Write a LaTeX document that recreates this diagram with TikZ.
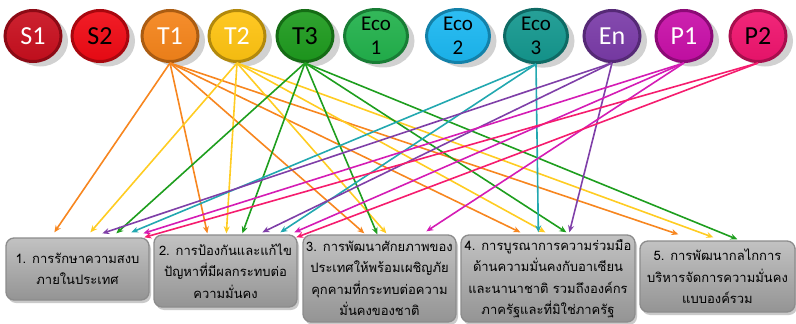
\documentclass[tikz,border=0pt]{standalone}
\usepackage{fontspec}
\setmainfont{Carlito}
\newfontfamily\thaifont[Script=Thai]{Loma}
\usetikzlibrary{shapes.geometric,arrows.meta,shadows,calc}
\definecolor{cS1}{HTML}{C80F1E}
\definecolor{cS2}{HTML}{F00A14}
\definecolor{cT1}{HTML}{F5841A}
\definecolor{cT2}{HTML}{FFC411}
\definecolor{cT3}{HTML}{1E9B1E}
\definecolor{cE1}{HTML}{22B24C}
\definecolor{cE2}{HTML}{1BB8F2}
\definecolor{cE3}{HTML}{14988F}
\definecolor{cEn}{HTML}{7A3BA8}
\definecolor{cP1}{HTML}{C80FA8}
\definecolor{cP2}{HTML}{F0146E}
\definecolor{aO}{HTML}{F7861F}
\definecolor{aY}{HTML}{FFCC22}
\definecolor{aG}{HTML}{1E9E1E}
\definecolor{aT}{HTML}{22A8B0}
\definecolor{aP}{HTML}{7F3FA8}
\definecolor{aM}{HTML}{D41CB4}
\definecolor{aK}{HTML}{F51C6E}
\begin{document}
\begin{tikzpicture}[x=1pt,y=-1pt,
  bubble/.style={ellipse, minimum width=56pt, minimum height=51pt, line width=3pt, inner sep=0pt,
    font=\fontsize{26}{26}\selectfont,
    drop shadow={shadow xshift=7pt, shadow yshift=-5pt, opacity=0.3, fill=black!60}},
  bub/.style 2 args={bubble, top color=#1!92!white, bottom color=#1!95!black, draw=#1!70!black, text=#2},
  ecob/.style={minimum width=63pt, align=center, font=\fontsize{21}{24}\selectfont},
  tbox/.style={draw=black!45, line width=1.3pt, rounded corners=8pt, top color=black!24, bottom color=black!42,
    drop shadow={shadow xshift=2pt, shadow yshift=-3pt, opacity=0.35, fill=black!60},
    font=\thaifont\fontsize{13}{21.5}\selectfont, align=center, text=black, inner sep=0pt},
  arr/.style={line width=1.6pt, -{Stealth[length=7pt,width=6pt]}}
]
\useasboundingbox (0,0) rectangle (796,324);
% top circles
\node[bub={cS1}{white}] (S1) at (33,36) {S1};
\node[bub={cS2}{black}] (S2) at (100,36) {S2};
\node[bub={cT1}{white}] (T1) at (170,36) {T1};
\node[bub={cT2}{white}] (T2) at (237,36) {T2};
\node[bub={cT3}{black}] (T3) at (305,36) {T3};
\node[bub={cE1}{black}, ecob] (E1) at (376,36) {Eco\\1};
\node[bub={cE2}{black}, ecob] (E2) at (458,36) {Eco\\2};
\node[bub={cE3}{black}, ecob] (E3) at (536,36) {Eco\\3};
\node[bub={cEn}{white}] (En) at (612,36) {En};
\node[bub={cP1}{white}] (P1) at (684,36) {P1};
\node[bub={cP2}{black}] (P2) at (758,36) {P2};
% boxes
\node[tbox, minimum width=143pt, minimum height=62pt] (b1) at (77.5,269) {1. การรักษาความสงบ\\ภายในประเทศ};
\node[tbox, minimum width=143pt, minimum height=72pt] (b2) at (225.5,271) {2. การป้องกันและแก้ไข\\ปัญหาที่มีผลกระทบต่อ\\ความมั่นคง};
\node[tbox, minimum width=153pt, minimum height=87pt] (b3) at (379.5,278.5) {3. การพัฒนาศักยภาพของ\\ประเทศให้พร้อมเผชิญภัย\\คุกคามที่กระทบต่อความ\\มั่นคงของชาติ};
\node[tbox, minimum width=174pt, minimum height=87pt] (b4) at (548,278.5) {4. การบูรณาการความร่วมมือ\\ด้านความมั่นคงกับอาเซียน\\และนานาชาติ รวมถึงองค์กร\\ภาครัฐและที่มิใช่ภาครัฐ};
\node[tbox, minimum width=155pt, minimum height=71pt] (b5) at (717.5,276.5) {5. การพัฒนากลไกการ\\บริหารจัดการความมั่นคง\\แบบองค์รวม};
% arrows T1
\draw[arr, aO] (T1.south) -- ([xshift=49pt,yshift=5pt]b1.north west);
\draw[arr, aO] (T1.south) -- ([xshift=54pt,yshift=1pt]b2.north west);
\draw[arr, aO] (T1.south) -- ([xshift=62pt,yshift=1pt]b3.north west);
\draw[arr, aO] (T1.south) -- ([xshift=60pt,yshift=2pt]b4.north west);
\draw[arr, aO] (T1.south) -- ([xshift=39pt,yshift=6pt]b5.north west);
% arrows T2
\draw[arr, aY] (T2.south) -- ([xshift=85pt,yshift=5pt]b1.north west);
\draw[arr, aY] (T2.south) -- ([xshift=73pt,yshift=1pt]b2.north west);
\draw[arr, aY] (T2.south) -- ([xshift=84pt,yshift=1pt]b3.north west);
\draw[arr, aY] (T2.south) -- ([xshift=85pt,yshift=2pt]b4.north west);
\draw[arr, aY] (T2.south) -- ([xshift=74pt,yshift=3pt]b5.north west);
% arrows T3
\draw[arr, aG] (T3.south) -- ([xshift=111pt,yshift=4pt]b1.north west);
\draw[arr, aG] (T3.south) -- ([xshift=89pt,yshift=1pt]b2.north west);
\draw[arr, aG] (T3.south) -- ([xshift=75pt,yshift=0pt]b3.north west);
\draw[arr, aG] (T3.south) -- ([xshift=106pt,yshift=2pt]b4.north west);
\draw[arr, aG] (T3.south) -- ([xshift=98pt,yshift=1pt]b5.north west);
% arrows Eco3
\draw[arr, aT] (E3.south) -- ([xshift=126pt,yshift=5pt]b1.north west);
\draw[arr, aT] (E3.south) -- ([xshift=127pt,yshift=2pt]b2.north west);
\draw[arr, aT] (E3.south) -- ([xshift=78pt,yshift=2pt]b4.north west);
% arrows En
\draw[arr, aP] (En.south) -- ([xshift=97pt,yshift=4pt]b1.north west);
\draw[arr, aP] (En.south) -- ([xshift=109pt,yshift=2pt]b2.north west);
\draw[arr, aP] (En.south) -- ([xshift=109pt,yshift=2pt]b4.north west);
% arrows P1
\draw[arr, aM] (P1.south) -- ([xshift=138pt,yshift=4pt]b1.north west);
\draw[arr, aM] (P1.south) -- ([xshift=141pt,yshift=2pt]b2.north west);
\draw[arr, aM] (P1.south) -- ([xshift=124pt,yshift=3pt]b3.north west);
% arrows P2
\draw[arr, aK] (P2.south) -- ([xshift=139pt,yshift=0pt]b1.north west);
\draw[arr, aK] (P2.south) -- ([xshift=143pt,yshift=-3pt]b2.north west);
\end{tikzpicture}
\end{document}
